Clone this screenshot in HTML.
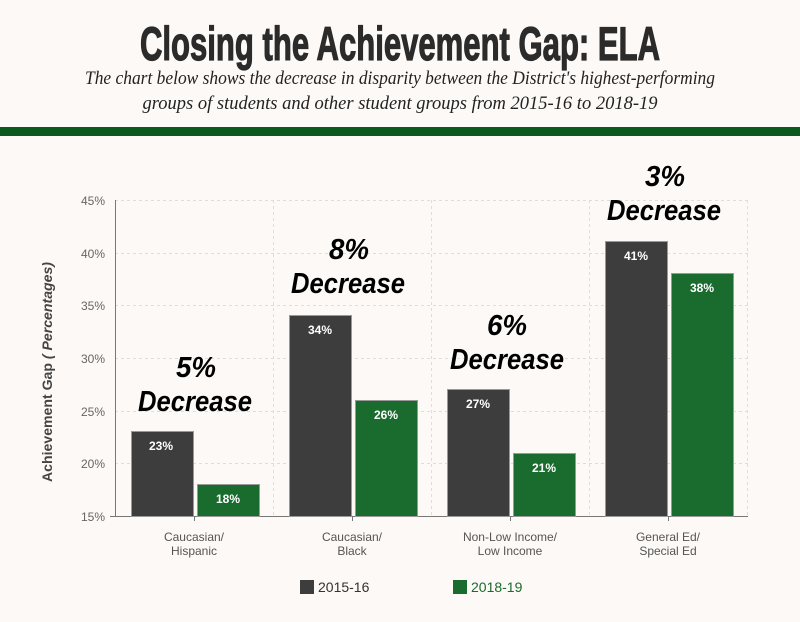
<!DOCTYPE html>
<html><head><style>
body{margin:0;background:#fcf9f6;}
.w{position:relative;width:800px;height:622px;overflow:hidden;background:#fcf9f6;font-family:"Liberation Sans",sans-serif;}
</style></head><body><div class="w">
<svg width="800" height="622" xmlns="http://www.w3.org/2000/svg">
<text x="400" y="60" text-anchor="middle" font-family="Liberation Sans Narrow, Liberation Sans, sans-serif" font-weight="bold" font-size="47" fill="#2b2b2b" stroke="#2b2b2b" stroke-width="1.2" textLength="520" lengthAdjust="spacingAndGlyphs">Closing the Achievement Gap: ELA</text>
<text x="400" y="84" text-anchor="middle" font-family="Liberation Serif,serif" font-style="italic" font-size="19" fill="#222" textLength="630" lengthAdjust="spacingAndGlyphs">The chart below shows the decrease in disparity between the District's highest-performing</text>
<text x="400" y="109" text-anchor="middle" font-family="Liberation Serif,serif" font-style="italic" font-size="19" fill="#222" textLength="515" lengthAdjust="spacingAndGlyphs">groups of students and other student groups from 2015-16 to 2018-19</text>
<rect x="0" y="127" width="800" height="9" fill="#0b5a1d"/>
<g stroke="#ddd" stroke-dasharray="3,3" stroke-width="1">
<line x1="115" x2="748" y1="200.5" y2="200.5"/><line x1="115" x2="748" y1="253.5" y2="253.5"/>
<line x1="115" x2="748" y1="305.5" y2="305.5"/><line x1="115" x2="748" y1="358.5" y2="358.5"/>
<line x1="115" x2="748" y1="411.5" y2="411.5"/><line x1="115" x2="748" y1="463.5" y2="463.5"/>
<line x1="273.5" x2="273.5" y1="200" y2="516"/><line x1="431.5" x2="431.5" y1="200" y2="516"/>
<line x1="589.5" x2="589.5" y1="200" y2="516"/><line x1="747.5" x2="747.5" y1="200" y2="516"/>
</g>
<g font-size="12" fill="#666" text-anchor="end">
<text x="105" y="205">45%</text><text x="105" y="258">40%</text><text x="105" y="310">35%</text>
<text x="105" y="363">30%</text><text x="105" y="416">25%</text><text x="105" y="468">20%</text><text x="105" y="521">15%</text>
</g>
<g stroke="#777"><line x1="115.5" x2="115.5" y1="200" y2="516"/><line x1="110" x2="748" y1="516.5" y2="516.5"/>
<line x1="194.5" x2="194.5" y1="516" y2="521"/><line x1="352.5" x2="352.5" y1="516" y2="521"/><line x1="510.5" x2="510.5" y1="516" y2="521"/><line x1="668.5" x2="668.5" y1="516" y2="521"/></g>
<text transform="translate(52 372) rotate(-90)" text-anchor="middle" font-size="14" font-weight="bold" fill="#444" textLength="220" lengthAdjust="spacingAndGlyphs">Achievement Gap <tspan font-style="italic">( Percentages)</tspan></text>
<g stroke="#999" stroke-width="1">
<rect x="131.5" y="431.5" width="62" height="85" fill="#3d3d3d"/><rect x="197.5" y="484.5" width="62" height="32" fill="#1a6b2e"/>
<rect x="289.5" y="315.5" width="62" height="201" fill="#3d3d3d"/><rect x="355.5" y="400.5" width="62" height="116" fill="#1a6b2e"/>
<rect x="447.5" y="389.5" width="62" height="127" fill="#3d3d3d"/><rect x="513.5" y="453.5" width="62" height="63" fill="#1a6b2e"/>
<rect x="605.5" y="241.5" width="62" height="275" fill="#3d3d3d"/><rect x="671.5" y="273.5" width="62" height="243" fill="#1a6b2e"/>
</g>
<g font-size="12" font-weight="bold" fill="#fff" text-anchor="middle">
<text x="161" y="450">23%</text><text x="228" y="503">18%</text>
<text x="320" y="334">34%</text><text x="386" y="419">26%</text>
<text x="478" y="408">27%</text><text x="544" y="472">21%</text>
<text x="636" y="260">41%</text><text x="702" y="292">38%</text>
</g>
<g font-size="29" font-weight="bold" font-style="italic" fill="#000" text-anchor="middle">
<text x="196" y="377" textLength="40" lengthAdjust="spacingAndGlyphs">5%</text><text x="195" y="411" textLength="114" lengthAdjust="spacingAndGlyphs">Decrease</text>
<text x="349" y="259" textLength="40" lengthAdjust="spacingAndGlyphs">8%</text><text x="348" y="293" textLength="114" lengthAdjust="spacingAndGlyphs">Decrease</text>
<text x="507" y="335" textLength="40" lengthAdjust="spacingAndGlyphs">6%</text><text x="507" y="369" textLength="114" lengthAdjust="spacingAndGlyphs">Decrease</text>
<text x="665" y="186" textLength="40" lengthAdjust="spacingAndGlyphs">3%</text><text x="664" y="220" textLength="114" lengthAdjust="spacingAndGlyphs">Decrease</text>
</g>
<g font-size="12" fill="#555" text-anchor="middle">
<text x="194" y="541">Caucasian/</text><text x="194" y="555">Hispanic</text>
<text x="352" y="541">Caucasian/</text><text x="352" y="555">Black</text>
<text x="510" y="541">Non-Low Income/</text><text x="510" y="555">Low Income</text>
<text x="668" y="541">General Ed/</text><text x="668" y="555">Special Ed</text>
</g>
<rect x="300" y="580" width="14" height="14" fill="#3d3d3d"/>
<text x="318" y="592" font-size="14" fill="#333">2015-16</text>
<rect x="453" y="580" width="14" height="14" fill="#1a6b2e"/>
<text x="471" y="592" font-size="14" fill="#1a6b2e">2018-19</text>
</svg>
</div></body></html>
